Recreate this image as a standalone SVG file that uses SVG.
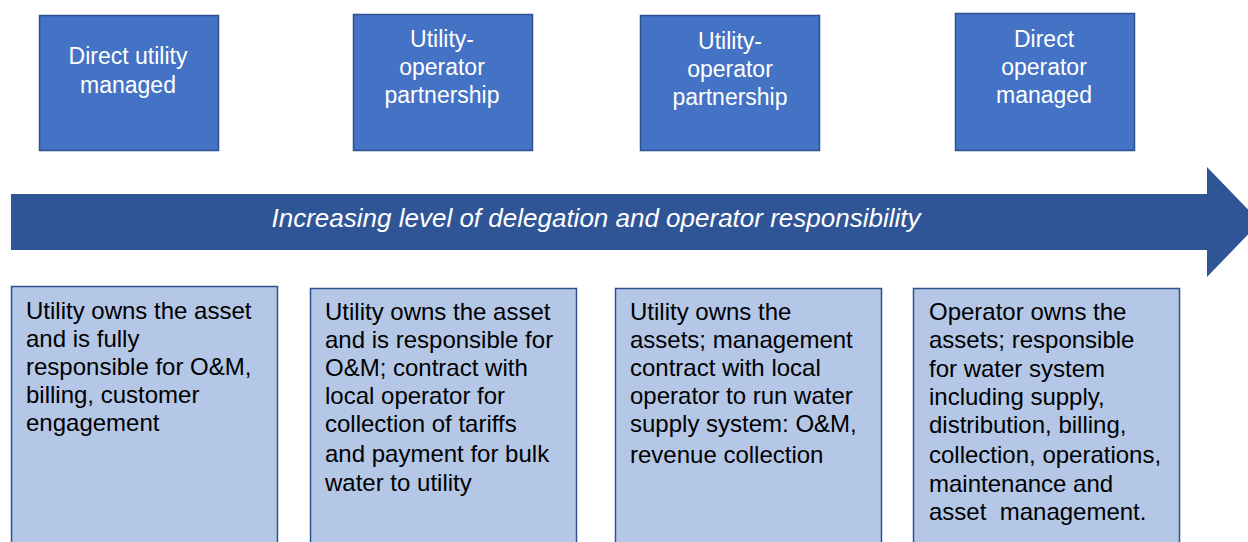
<svg xmlns="http://www.w3.org/2000/svg" width="1248" height="542" viewBox="0 0 1248 542">
  <style>
    .model { fill: #4472C4; stroke: #2F528F; stroke-width: 1.5; }
    .model-label { font-family: "Liberation Sans", Arial, sans-serif; font-size: 23px; fill: #FFFFFF; text-anchor: middle; }
    .detail { fill: #B4C7E7; stroke: #2F528F; stroke-width: 1.5; }
    .detail-text { font-family: "Liberation Sans", Arial, sans-serif; font-size: 24px; fill: #000000; }
    .band { fill: #2F5597; }
    .band-text { font-family: "Liberation Sans", Arial, sans-serif; font-size: 26px; font-style: italic; fill: #FFFFFF; text-anchor: middle; }
  </style>
  <rect width="1248" height="542" fill="#FFFFFF"/>

  <!-- Delegation arrow -->
  <g id="connectors">
    <polygon class="band" points="11,194 1207,194 1207,167 1260,222 1207,277 1207,250 11,250"/>
    <text class="band-text" x="596" y="227">Increasing level of delegation and operator responsibility</text>
  </g>

  <!-- Management models -->
  <g id="model-direct-utility">
    <rect class="model" x="39.5" y="15.5" width="179" height="135"/>
    <text class="model-label" x="128" y="64">Direct utility</text>
    <text class="model-label" x="128" y="93">managed</text>
  </g>
  <g id="model-partnership-1">
    <rect class="model" x="353.5" y="14.5" width="179" height="136"/>
    <text class="model-label" x="442" y="47">Utility-</text>
    <text class="model-label" x="442" y="75">operator</text>
    <text class="model-label" x="442" y="103">partnership</text>
  </g>
  <g id="model-partnership-2">
    <rect class="model" x="640.5" y="15.5" width="179" height="135"/>
    <text class="model-label" x="730" y="49">Utility-</text>
    <text class="model-label" x="730" y="77">operator</text>
    <text class="model-label" x="730" y="105">partnership</text>
  </g>
  <g id="model-direct-operator">
    <rect class="model" x="955.5" y="13.5" width="179" height="137"/>
    <text class="model-label" x="1044" y="47">Direct</text>
    <text class="model-label" x="1044" y="75">operator</text>
    <text class="model-label" x="1044" y="103">managed</text>
  </g>

  <!-- Responsibility descriptions -->
  <g id="detail-direct-utility">
    <rect class="detail" x="11.5" y="286.5" width="266" height="280"/>
    <text class="detail-text" x="26" y="319">Utility owns the asset</text>
    <text class="detail-text" x="26" y="347">and is fully</text>
    <text class="detail-text" x="26" y="375">responsible for O&amp;M,</text>
    <text class="detail-text" x="26" y="403">billing, customer</text>
    <text class="detail-text" x="26" y="431">engagement</text>
  </g>
  <g id="detail-partnership-1">
    <rect class="detail" x="310.5" y="288.5" width="266" height="280"/>
    <text class="detail-text" x="325" y="320">Utility owns the asset</text>
    <text class="detail-text" x="325" y="348">and is responsible for</text>
    <text class="detail-text" x="325" y="376">O&amp;M; contract with</text>
    <text class="detail-text" x="325" y="404">local operator for</text>
    <text class="detail-text" x="325" y="432">collection of tariffs</text>
    <text class="detail-text" x="325" y="462">and payment for bulk</text>
    <text class="detail-text" x="325" y="491">water to utility</text>
  </g>
  <g id="detail-partnership-2">
    <rect class="detail" x="615.5" y="288.5" width="266" height="280"/>
    <text class="detail-text" x="630" y="320">Utility owns the</text>
    <text class="detail-text" x="630" y="348">assets; management</text>
    <text class="detail-text" x="630" y="376">contract with local</text>
    <text class="detail-text" x="630" y="404">operator to run water</text>
    <text class="detail-text" x="630" y="432">supply system: O&amp;M,</text>
    <text class="detail-text" x="630" y="463">revenue collection</text>
  </g>
  <g id="detail-direct-operator">
    <rect class="detail" x="913.5" y="288.5" width="266" height="280"/>
    <text class="detail-text" x="929" y="320">Operator owns the</text>
    <text class="detail-text" x="929" y="348">assets; responsible</text>
    <text class="detail-text" x="929" y="377">for water system</text>
    <text class="detail-text" x="929" y="405">including supply,</text>
    <text class="detail-text" x="929" y="433">distribution, billing,</text>
    <text class="detail-text" x="929" y="463">collection, operations,</text>
    <text class="detail-text" x="929" y="492">maintenance and</text>
    <text class="detail-text" x="929" y="520" xml:space="preserve">asset  management.</text>
  </g>
</svg>
